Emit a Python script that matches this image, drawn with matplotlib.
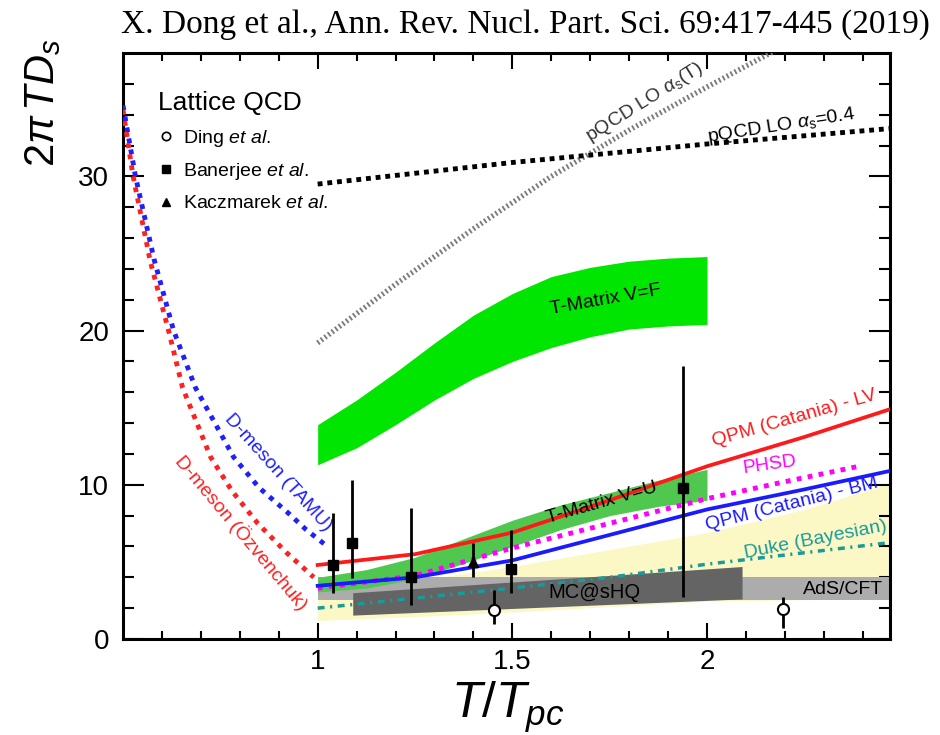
import matplotlib
matplotlib.use('Agg')
import matplotlib.pyplot as plt
from matplotlib.lines import Line2D
import numpy as np

plt.rcParams['font.family'] = ['Liberation Sans', 'DejaVu Sans']
plt.rcParams['mathtext.fontset'] = 'custom'
plt.rcParams['mathtext.rm'] = 'Liberation Sans'
plt.rcParams['mathtext.it'] = 'Liberation Sans:italic'
plt.rcParams['mathtext.bf'] = 'Liberation Sans:bold'

# hadronic phase, D-meson
tamu_x = [0.50, 0.532, 0.58, 0.63, 0.686, 0.784, 0.85, 0.923, 0.97, 1.02]
tamu_y = [34.6, 30.0, 24.6, 20.0, 16.3, 11.8, 9.8, 8.2, 7.1, 6.1]
ozv_x = [0.50, 0.526, 0.57, 0.617, 0.653, 0.725, 0.78, 0.846, 0.92, 0.99]
ozv_y = [34.3, 30.0, 24.5, 20.0, 16.3, 11.8, 9.6, 7.5, 5.6, 4.0]

# pQCD
pqcd_T_x = [1.0, 1.2, 1.4, 1.6, 1.8, 2.0, 2.2]
pqcd_T_y = [19.2, 23.0, 26.6, 30.0, 33.0, 35.8, 38.5]
pqcd_04_x = [1.0, 1.5, 2.0, 2.47]
pqcd_04_y = [29.5, 30.9, 32.1, 33.1]

# T-matrix bands
tmf_x = [1.0, 1.1, 1.2, 1.3, 1.4, 1.5, 1.6, 1.7, 1.8, 1.9, 2.0]
tmf_hi = [13.9, 15.5, 17.3, 19.2, 21.0, 22.4, 23.5, 24.1, 24.5, 24.7, 24.8]
tmf_lo = [11.3, 12.4, 13.9, 15.5, 16.9, 18.0, 18.9, 19.6, 20.1, 20.3, 20.4]
tmu_x = [1.0, 1.125, 1.25, 1.375, 1.5, 1.625, 1.75, 1.875, 2.0]
tmu_hi = [4.0, 4.5, 5.3, 6.5, 7.7, 8.7, 9.5, 10.3, 11.0]
tmu_lo = [3.05, 3.3, 3.9, 4.9, 6.0, 7.1, 8.0, 8.6, 9.0]

# QPM, PHSD, Duke
qpm_x = [1.0, 1.25, 1.5, 1.75, 2.0, 2.25, 2.47]
qpm_lv = [4.8, 5.5, 6.9, 9.0, 11.2, 13.1, 14.9]
qpm_bm = [3.45, 4.0, 5.1, 6.75, 8.4, 9.7, 10.9]
phsd_x = [1.0, 1.25, 1.5, 1.75, 2.0, 2.2, 2.39]
phsd_y = [3.3, 4.1, 5.9, 7.5, 9.1, 10.2, 11.2]
duke_x = [1.0, 1.25, 1.5, 1.75, 2.0, 2.47]
duke_y = [2.0, 2.65, 3.3, 4.0, 4.85, 6.25]
duke_band_x = [1.0, 1.25, 1.5, 1.75, 2.0, 2.25, 2.47]
duke_band_hi = [3.0, 3.8, 4.7, 5.8, 6.9, 8.4, 10.1]
duke_band_lo = [1.2, 1.45, 1.75, 2.1, 2.45, 2.55, 2.6]

# AdS/CFT and MC@sHQ
ads_x = [1.0, 2.47]
ads_hi = [4.05, 4.05]
ads_lo = [2.5, 2.5]
mc_x = [1.09, 2.09]
mc_hi = [3.0, 4.7]
mc_lo = [1.55, 2.6]

# lattice QCD
ban_x = [1.039, 1.089, 1.239, 1.496, 1.939]
ban_y = [4.8, 6.2, 4.05, 4.55, 9.8]
ban_top = [8.2, 10.3, 8.5, 7.1, 17.7]
ban_bot = [3.0, 3.95, 2.2, 3.0, 2.7]
kac_x = [1.40]
kac_y = [5.0]
kac_top = [6.25]
kac_bot = [4.0]
ding_x = [1.452, 2.195]
ding_y = [1.88, 1.95]
ding_top = [3.2, 2.7]
ding_bot = [1.0, 0.7]

fig = plt.figure(figsize=(9.4, 7.35), dpi=100)
ax = fig.add_axes([123 / 940, 96 / 735, 767 / 940, 586 / 735])

ax.fill_between(duke_band_x, duke_band_lo, duke_band_hi, color='#fbf8c6', lw=0, zorder=1)
ax.fill_between(ads_x, ads_lo, ads_hi, color='#acacac', lw=0, zorder=2)
ax.fill_between(mc_x, mc_lo, mc_hi, color='#646464', lw=0, zorder=3)
ax.fill_between(tmu_x, tmu_lo, tmu_hi, color='#50c850', lw=0, zorder=2.5)
ax.fill_between(tmf_x, tmf_lo, tmf_hi, color='#00e600', lw=0, zorder=2)

ax.plot(tamu_x, tamu_y, color='#2020ff', lw=3.5, ls=(0, (1, 1.3)), zorder=4)
ax.plot(ozv_x, ozv_y, color='#ff2020', lw=3.5, ls=(0, (1, 1.3)), zorder=4)
ax.plot(pqcd_T_x, pqcd_T_y, color='#7a7a7a', lw=3.8, ls=(0, (0.35, 0.5)), zorder=4)
ax.plot(pqcd_04_x, pqcd_04_y, color='black', lw=3.5, ls=(0, (1, 1)), zorder=4)
ax.plot(duke_x, duke_y, color='#1a9a9a', lw=2.5, ls=(0, (2, 1.6, 0.6, 1.6)), zorder=4)
ax.plot(phsd_x, phsd_y, color='#ff00ff', lw=3.5, ls=(0, (1, 1.3)), zorder=4)
ax.plot(qpm_x, qpm_bm, color='#1a1aff', lw=2.7, zorder=4.5)
ax.plot(qpm_x, qpm_lv, color='#ff1a1a', lw=2.7, zorder=4.5)

def bars(x, y, top, bot, fmt, **kw):
    y = np.array(y)
    err = [y - np.array(bot), np.array(top) - y]
    ax.errorbar(x, y, yerr=err, fmt=fmt, color='black', elinewidth=2, capsize=0, zorder=7, **kw)

bars(ban_x, ban_y, ban_top, ban_bot, 's', ms=7)
bars(kac_x, kac_y, kac_top, kac_bot, '^', ms=7)
bars(ding_x, ding_y, ding_top, ding_bot, 'o', ms=8, mfc='white', mec='black', mew=1.5)

# labels on the curves
lab = dict(ha='center', va='center', rotation_mode='anchor', zorder=6)
ax.text(0.897, 10.8, 'D-meson (TAMU)', color='#2020ff', fontsize=14, rotation=-48, **lab)
ax.text(0.805, 6.9, 'D-meson (Özvenchuk)', color='#ff2020', fontsize=14, rotation=-50, **lab)
ax.text(1.84, 34.8, r'pQCD LO $\alpha_{\rm s}$(T)', color='#333333', fontsize=14, rotation=32, **lab)
ax.text(2.19, 33.3, r'pQCD LO $\alpha_{\rm s}$=0.4', color='black', fontsize=14, rotation=9, **lab)
ax.text(1.74, 22.0, 'T-Matrix V=F', color='black', fontsize=14, rotation=10, **lab)
ax.text(1.73, 8.8, 'T-Matrix V=U', color='black', fontsize=14, rotation=16, **lab)
ax.text(2.224, 14.3, 'QPM (Catania) - LV', color='#ff1a1a', fontsize=14, rotation=16, **lab)
ax.text(2.16, 11.3, 'PHSD', color='#ff00ff', fontsize=14, rotation=8, **lab)
ax.text(2.219, 8.7, 'QPM (Catania) - BM', color='#1a1aff', fontsize=14, rotation=14, **lab)
ax.text(2.28, 6.4, 'Duke (Bayesian)', color='#1a9a9a', fontsize=14, rotation=11, **lab)
ax.text(1.71, 3.0, 'MC@sHQ', color='black', fontsize=14.5, **lab)
ax.text(2.35, 3.2, 'AdS/CFT', color='black', fontsize=14, **lab)

handles = [
    Line2D([], [], ls='none', marker='o', ms=6, mfc='white', mec='black', mew=1.2),
    Line2D([], [], ls='none', marker='s', ms=6, color='black'),
    Line2D([], [], ls='none', marker='^', ms=6, color='black'),
]
names = [r'Ding $\mathit{et\ al.}$', r'Banerjee $\mathit{et\ al.}$', r'Kaczmarek $\mathit{et\ al.}$']
leg = ax.legend(handles, names, title='Lattice QCD', loc='upper left',
                bbox_to_anchor=(0.046, 0.935), frameon=False, fontsize=14,
                title_fontsize=19, alignment='left', handlelength=0.8,
                handletextpad=0.45, labelspacing=0.65, borderpad=0, borderaxespad=0)
leg._legend_box.sep = 9

ax.set_xlim(0.5, 2.47)
ax.set_ylim(0, 38)
ax.set_xticks([1, 1.5, 2])
ax.set_xticklabels(['1', '1.5', '2'])
ax.set_xticks(np.arange(0.6, 2.45, 0.1), minor=True)
ax.set_yticks([0, 10, 20, 30])
ax.set_yticks(np.arange(2, 38, 2), minor=True)
for s in ax.spines.values():
    s.set_linewidth(2.2)
ax.tick_params(which='both', direction='in', top=True, right=True, width=1.5, labelsize=20)
ax.tick_params(axis='y', which='major', length=15, pad=10)
ax.tick_params(axis='y', which='minor', length=8)
ax.tick_params(axis='x', which='major', length=11.5, pad=7)
ax.tick_params(axis='x', which='minor', length=6)

ax.set_xlabel(r'$T/T_{pc}$', fontsize=36)
ax.xaxis.set_label_coords(0.502, -0.07)
ax.set_ylabel(r'$2\pi\,TD_{s}$', fontsize=30, va='center')
ax.yaxis.set_label_coords(-0.104, 0.915)

fig.text(930 / 940, 1 - 25 / 735, 'X. Dong et al., Ann. Rev. Nucl. Part. Sci. 69:417-445 (2019)',
         ha='right', va='center', fontsize=24, family='Liberation Serif')

fig.savefig('out.png', dpi=100)
